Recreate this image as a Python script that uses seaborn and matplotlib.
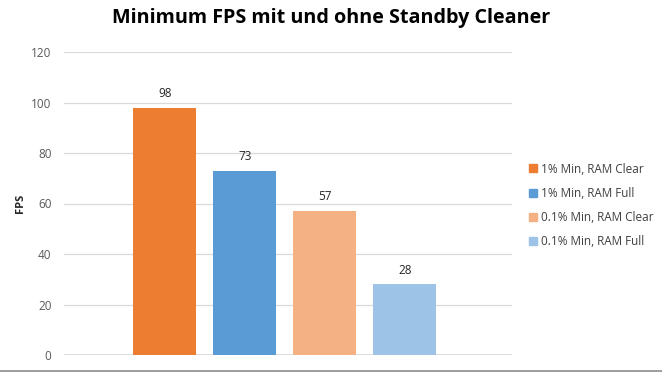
import matplotlib
matplotlib.use("Agg")
import matplotlib.pyplot as plt
import seaborn as sns
import pandas as pd
from matplotlib.lines import Line2D

series = ["1% Min, RAM Clear", "1% Min, RAM Full", "0.1% Min, RAM Clear", "0.1% Min, RAM Full"]
fps = [98, 73, 57, 28]
colors = ["#ED7D31", "#5B9BD5", "#F4B183", "#9DC3E6"]

df = pd.DataFrame({"series": series, "fps": fps})

sns.set_style("white")
plt.rcParams["font.family"] = ["Open Sans", "DejaVu Sans"]

fig = plt.figure(figsize=(6.62, 3.72), dpi=100)
ax = fig.add_axes([64 / 662, 17 / 372, 448 / 662, 303 / 372])

sns.barplot(data=df, x="series", y="fps", hue="series", palette=colors,
            width=0.79, dodge=False, legend=False, ax=ax, saturation=1, linewidth=0)

for i, v in enumerate(fps):
    ax.text(i, v + 3, str(v), ha="center", va="bottom", fontsize=8.5, color="#262626")

ax.set_ylim(0, 120)
ax.set_yticks(range(0, 121, 20))
ax.set_xlim(-1.26, 4.34)
ax.set_xticks([])
ax.set_xlabel("")
ax.set_ylabel("FPS", fontsize=8, fontweight="bold", color="#262626")
ax.yaxis.set_label_coords(-38 / 448, 0.5)
ax.yaxis.grid(True, color="#D9D9D9", linewidth=0.9)
ax.set_axisbelow(True)
ax.tick_params(axis="y", length=0, labelsize=8.5, labelcolor="#595959", pad=9)
for s in ax.spines.values():
    s.set_visible(False)
ax.axhline(0, color="#D9D9D9", linewidth=1.2, zorder=0)

handles = [Line2D([], [], marker="s", linestyle="", markersize=6,
                  markerfacecolor=c, markeredgecolor=c) for c in colors]
fig.legend(handles, series, loc="upper left", bbox_to_anchor=(516 / 662, 1 - 152 / 372),
           frameon=False, fontsize=8.5, labelcolor="#404040", handletextpad=0.2,
           labelspacing=0.95, handlelength=1.0)

fig.suptitle("Minimum FPS mit und ohne Standby Cleaner", x=331 / 662, y=1 - 8 / 372,
             va="top", fontsize=14.2, fontweight="bold", color="black")

fig.add_artist(Line2D([0, 1], [1.5 / 372, 1.5 / 372], color="#8C8C8C", linewidth=1.2,
                      transform=fig.transFigure))

fig.savefig("out.png", dpi=100)
